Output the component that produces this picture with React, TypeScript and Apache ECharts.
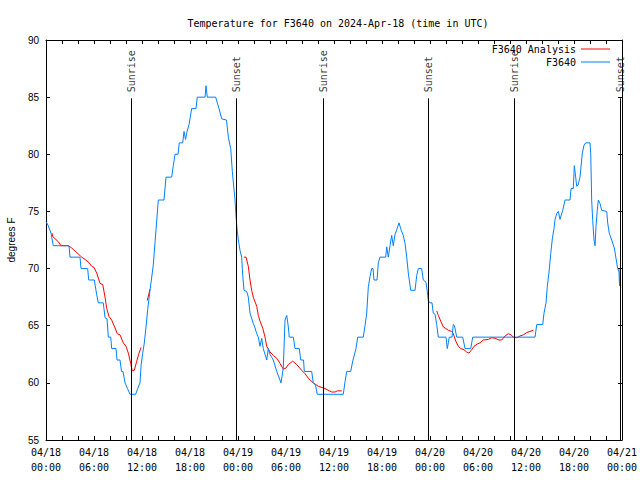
import { useEffect, useRef } from 'react';
import * as echarts from 'echarts';

// ---- data (hours since 2024-04-18 00:00 UTC) ----
const dayLabels = ['04/18', '04/19', '04/20', '04/21'];
const yTicks = [55, 60, 65, 70, 75, 80, 85, 90];

const sunNames = ['Sunrise', 'Sunset', 'Sunrise', 'Sunset', 'Sunrise', 'Sunset'];
const sunHours = [10.63, 23.75, 34.66, 47.79, 58.54, 71.75];

const analysisHours = [
  0.75, 0.84, 1.54, 1.88, 2.79, 3.21, 3.84, 4.46, 4.88, 5.41, 5.71, 6.0, 6.34, 6.75, 7.09, 7.38, 7.59, 7.88,
  8.21, 8.63, 8.91, 9.25, 9.66, 10.0, 10.29, 10.59, 10.75, 11.04, 11.34, 11.63, 11.88,
  12.3,
  12.66, 13.0,
  13.5,
  24.75, 25.0, 25.29, 25.5, 25.71, 25.91, 26.34, 26.54, 26.75, 27.09, 27.38, 27.59, 28.0, 28.41, 28.91,
  29.25, 29.66, 30.0, 30.29, 30.84, 31.34, 31.96, 32.38, 32.79, 33.41, 34.04, 34.88, 35.71, 36.13, 36.41, 36.96,
  40.0,
  48.84, 49.04, 49.34, 49.66, 49.88, 50.29, 50.71, 50.91, 51.25, 51.54, 51.84, 52.25, 52.59, 52.88, 53.21,
  53.5, 53.91, 54.25, 54.66, 55.29, 55.71, 56.13, 56.63, 56.96, 57.38, 57.79, 58.13, 58.41, 58.84, 59.25,
  59.66, 60.09, 60.5, 60.91,
];
const analysisValues: (number | null)[] = [
  73.1, 72.8, 72.35, 72.0, 72.0, 71.8, 71.4, 71.0, 70.8, 70.5, 70.2, 70.1, 69.6, 68.7, 68.6, 67.5, 66.5, 65.8,
  65.5, 64.8, 64.3, 64.2, 63.5, 63.2, 62.6, 61.7, 61.1, 61.1, 61.9, 62.6, 63.1,
  null,
  67.2, 68.2,
  null,
  71.0, 71.0, 70.2, 69.0, 68.1, 67.5, 66.7, 65.9, 65.4, 64.8, 64.0, 63.2, 62.7, 62.4, 62.1,
  61.7, 61.2, 61.3, 61.6, 61.9, 61.6, 61.1, 60.8, 60.4, 60.0, 59.7, 59.5, 59.2, 59.2, 59.3, 59.3,
  null,
  66.3, 65.9, 65.4, 64.9, 64.8, 64.6, 64.5, 64.3, 63.6, 63.2, 63.0, 62.9, 62.7, 62.6, 62.9,
  63.2, 63.4, 63.5, 63.75, 63.8, 63.95, 63.9, 63.75, 63.75, 64.1, 64.3, 64.2, 64.0, 63.95, 64.1,
  64.2, 64.4, 64.5, 64.6,
];

const stationHours = [
  0, 0.25, 0.63, 0.91, 2.88, 3.0, 4.25, 4.38, 5.21, 5.34, 6.04, 6.34, 6.54, 7.16, 7.38, 7.63, 7.79, 8.09,
  8.21, 8.75, 8.88, 9.25, 9.44, 9.63, 9.88, 10.19, 10.5, 11.21, 11.46, 11.75, 11.88, 12.09, 12.29, 12.5,
  12.71, 13.0, 13.41, 13.75, 14.04, 14.75, 15.0, 15.71, 15.91, 16.13, 16.5, 16.66, 17.09, 17.25, 17.44,
  17.63, 17.88, 18.21, 18.75, 18.91, 19.88, 20.0, 20.16, 21.21, 21.41, 21.63, 21.96, 22.56, 22.79, 23.09,
  23.29, 23.41, 23.63, 23.75, 23.88, 24.04, 24.25, 24.46, 24.59, 24.75, 25.09, 25.29, 25.5, 25.91, 26.13,
  26.34, 26.54, 26.75, 26.96, 27.16, 27.59, 27.79, 28.0, 28.41, 28.84, 29.38, 29.66, 29.88, 30.09, 30.29,
  30.41, 30.91, 31.13, 31.66, 31.84, 32.19, 32.29, 33.21, 33.41, 33.69, 33.91, 37.16, 37.38, 37.59, 38.09,
  38.34, 38.75, 38.96, 39.66, 39.88, 40.09, 40.29, 40.5, 40.71, 40.88, 41.0, 41.38, 41.54, 41.75, 42.46,
  42.59, 42.79, 43.0, 43.21, 43.41, 43.63, 43.84, 44.13, 44.38, 44.66, 44.88, 45.09, 45.29, 45.59, 46.13,
  46.34, 46.54, 46.96, 47.16, 47.5, 47.66, 47.79, 48.0, 48.25, 48.41, 48.63, 48.84, 49.04, 50.0, 50.16,
  50.29, 50.41, 50.75, 50.91, 51.06, 51.34, 52.09, 52.38, 53.09, 53.34, 61.13, 61.34, 62.09, 62.25, 62.5,
  62.66, 62.88, 63.09, 63.29, 63.5, 63.63, 63.84, 64.04, 64.25, 64.59, 64.88, 65.5, 65.63, 65.91, 66.04,
  66.21, 66.34, 66.5, 66.75, 67.04, 67.25, 67.46, 68.0, 68.09, 68.21, 68.34, 68.5, 68.63, 68.75, 68.91,
  69.04, 69.25, 69.46, 70.09, 70.21, 70.41, 70.71, 71.04, 71.25, 71.46, 71.63, 71.69, 71.75,
];
const stationValues = [
  74.1, 73.8, 73.1, 72.0, 72.0, 71.0, 71.0, 70.0, 70.0, 69.0, 69.0, 67.7, 67.0, 67.0, 65.7, 65.6, 64.0, 64.0,
  63.0, 63.0, 62.0, 62.0, 61.0, 61.0, 60.0, 59.5, 59.0, 59.0, 59.5, 60.0, 61.5, 62.6, 63.5, 64.9,
  66.4, 68.1, 70.3, 73.4, 76.0, 76.0, 78.0, 78.0, 79.0, 80.0, 80.0, 81.0, 81.0, 82.0, 81.3,
  82.0, 82.6, 84.0, 84.0, 85.0, 85.0, 86.0, 85.0, 85.0, 84.5, 84.0, 83.1, 83.0, 81.5, 80.5,
  78.5, 77.6, 76.0, 74.6, 73.5, 72.5, 71.6, 71.0, 69.4, 68.1, 68.0, 67.5, 66.1, 65.2, 64.8,
  64.3, 64.0, 63.2, 63.9, 63.0, 62.0, 63.0, 62.5, 62.0, 61.0, 60.0, 61.3, 65.5, 65.9, 64.9,
  64.0, 64.0, 63.0, 63.0, 62.0, 62.0, 61.0, 61.0, 60.0, 59.8, 59.0, 59.0, 60.1, 61.0, 61.0,
  61.9, 63.0, 64.0, 64.0, 65.0, 66.1, 68.4, 69.3, 70.0, 70.0, 69.0, 69.0, 70.5, 71.0, 71.0,
  71.9, 71.0, 72.0, 72.9, 72.0, 73.0, 73.4, 74.0, 73.4, 72.9, 72.2, 71.0, 69.6, 68.1, 68.1,
  69.4, 70.0, 70.0, 69.0, 68.8, 68.0, 67.2, 67.0, 67.0, 66.1, 66.0, 65.1, 64.0, 64.0, 63.0,
  63.5, 64.0, 64.0, 65.1, 65.0, 64.0, 64.0, 63.0, 63.0, 64.0, 64.0, 65.1, 65.1, 66.1, 67.0,
  68.4, 69.7, 71.3, 72.6, 73.5, 74.3, 74.8, 75.0, 74.3, 75.1, 76.0, 76.0, 77.0, 77.0, 79.0,
  78.0, 77.2, 77.3, 78.0, 80.1, 80.8, 81.0, 81.0, 80.1, 76.0, 74.2, 72.5, 72.0, 73.7, 75.1,
  76.0, 75.7, 75.1, 75.0, 74.0, 73.1, 72.5, 71.8, 70.9, 70.0, 69.7, 68.5, 70.0,
];

const MONO = 'DejaVu Sans Mono';
const SANS = 'Liberation Sans';

export default function App() {
  const ref = useRef<HTMLDivElement>(null);

  useEffect(() => {
    if (!ref.current) return;
    const chart = echarts.init(ref.current, undefined, { renderer: 'svg' });

    const sunTop = 84.9;
    const xAxisBase = {
      type: 'value' as const,
      min: 0,
      max: 72,
      interval: 6,
      axisLine: { show: true, onZero: false, lineStyle: { color: '#000', width: 1 } },
      axisTick: { show: true, inside: true, length: 4, lineStyle: { color: '#000' } },
      minorTick: { show: true, splitNumber: 3, length: 4, lineStyle: { color: '#000' } },
      splitLine: { show: false },
    };
    const yAxisBase = {
      type: 'value' as const,
      min: 55,
      max: 90,
      interval: 5,
      axisLine: { show: true, onZero: false, lineStyle: { color: '#000', width: 1 } },
      axisTick: { show: true, inside: true, length: 4, lineStyle: { color: '#000' } },
      splitLine: { show: false },
    };

    chart.setOption({
      animation: false,
      backgroundColor: '#fff',
      title: {
        text: 'Temperature for F3640 on 2024-Apr-18 (time in UTC)',
        left: 333,
        top: 13,
        textAlign: 'center',
        textStyle: { fontFamily: MONO, fontSize: 10, fontWeight: 'normal', color: '#000' },
      },
      legend: [
        {
          data: ['F3640 Analysis'],
          right: 30,
          top: 44,
          padding: 0,
          align: 'right',
          icon: 'rect',
          itemWidth: 29,
          itemHeight: 1,
          selectedMode: false,
          textStyle: { fontFamily: MONO, fontSize: 10, color: '#000' },
        },
        {
          data: ['F3640'],
          right: 30,
          top: 57,
          padding: 0,
          align: 'right',
          icon: 'rect',
          itemWidth: 29,
          itemHeight: 1,
          selectedMode: false,
          textStyle: { fontFamily: MONO, fontSize: 10, color: '#000' },
        },
      ],
      grid: { left: 46, right: 18, top: 40, bottom: 40, containLabel: false, outerBoundsMode: 'none' },
      xAxis: [
        {
          ...xAxisBase,
          position: 'bottom',
          axisLabel: {
            show: true,
            margin: 5,
            fontFamily: MONO,
            fontSize: 10,
            lineHeight: 15,
            color: '#000',
            formatter: (v: number) => {
              const d = Math.floor(v / 24);
              const hh = Math.round(v - d * 24);
              return dayLabels[d] + '\n' + String(hh).padStart(2, '0') + ':00';
            },
          },
        },
        { ...xAxisBase, position: 'top', axisLabel: { show: false } },
      ],
      yAxis: [
        {
          ...yAxisBase,
          position: 'left',
          name: 'degrees F',
          nameLocation: 'middle',
          nameGap: 30,
          nameRotate: 90,
          nameTextStyle: { fontFamily: SANS, fontSize: 10, color: '#000' },
          axisLabel: {
            show: true,
            margin: 7,
            fontFamily: SANS,
            fontSize: 10,
            color: '#000',
            formatter: (v: number) => (yTicks.includes(v) ? String(v) : ''),
          },
        },
        { ...yAxisBase, position: 'right', axisLabel: { show: false } },
      ],
      series: [
        {
          name: 'F3640 Analysis',
          type: 'line',
          data: analysisHours.map((h, i) => [h, analysisValues[i] === null ? '-' : analysisValues[i]]),
          showSymbol: false,
          symbol: 'none',
          connectNulls: false,
          color: '#ff0000',
          lineStyle: { color: '#ff0000', width: 1 },
          silent: true,
          z: 2,
        },
        {
          name: 'F3640',
          type: 'line',
          data: stationHours.map((h, i) => [h, stationValues[i]]),
          showSymbol: false,
          symbol: 'none',
          color: '#0080ff',
          lineStyle: { color: '#0080ff', width: 1 },
          silent: true,
          z: 3,
        },
        {
          name: 'sun',
          type: 'scatter',
          data: sunHours.map((h) => [h, sunTop]),
          symbolSize: 0,
          silent: true,
          z: 4,
          label: {
            show: true,
            position: 'top',
            distance: 6,
            rotate: 90,
            align: 'left',
            verticalAlign: 'middle',
            fontFamily: MONO,
            fontSize: 10,
            color: '#000',
            formatter: (p: any) => sunNames[p.dataIndex],
          },
          markLine: {
            silent: true,
            symbol: 'none',
            label: { show: false },
            lineStyle: { color: '#000', width: 1, type: 'solid' },
            data: sunHours.map((h) => [{ coord: [h, 55] }, { coord: [h, sunTop] }]),
          },
        },
      ],
    });

    return () => chart.dispose();
  }, []);

  return <div ref={ref} style={{ width: 640, height: 480, position: 'absolute', left: 0, top: 0 }} />;
}
